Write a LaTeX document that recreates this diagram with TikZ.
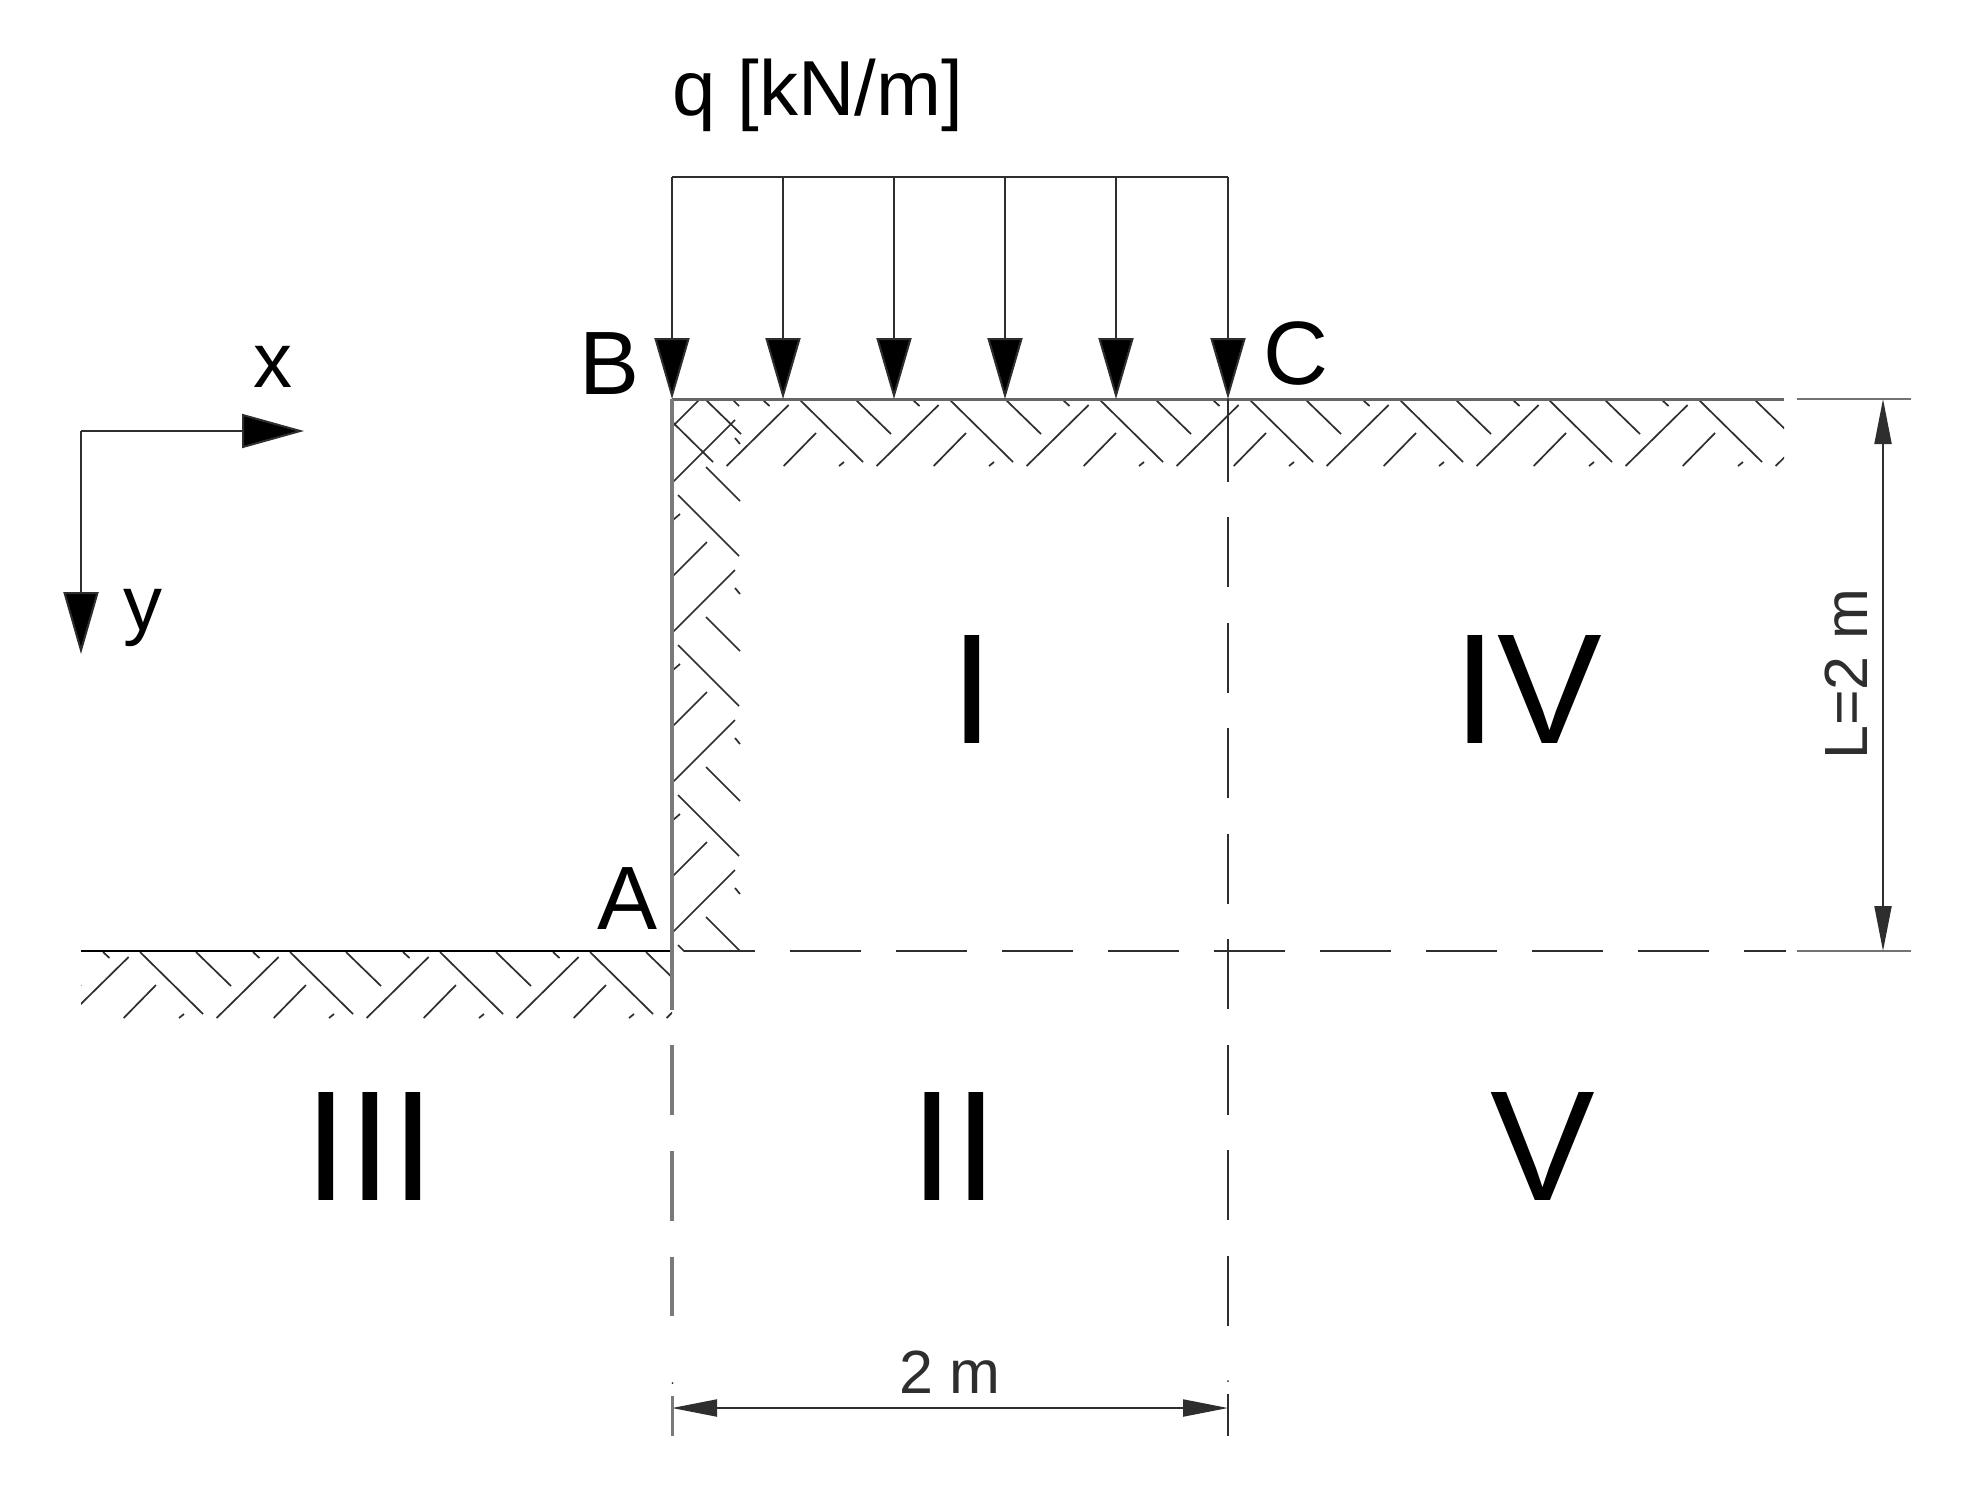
\documentclass[tikz,border=0pt]{standalone}
\usepackage{fontspec}
\setmainfont{Liberation Sans}
\usetikzlibrary{arrows.meta}
\definecolor{ink}{HTML}{2E2E2E}
\definecolor{wallgray}{HTML}{7A7A7A}
\newcommand{\groundcell}{%
  \draw[hatch] (0,1)--(63,63) (56,1)--(91,35) (113,1)--(119.5,7)
    (76.6,67)--(138.6,6) (133.7,67)--(166,34) (189,67)--(194,63);}
\newcommand{\wallcell}{%
  \draw[hatch] (673,632)--(735,570) (706,617)--(740,651) (678,645)--(739,706)
    (673,670)--(680,664) (673,726)--(707,692) (735,738)--(740,744);}
\tikzset{
  hatch/.style={draw=ink,line width=1.7pt},
  loadarrow/.style={draw=ink,line width=2pt,-{Triangle[length=61pt,width=35pt,fill=black]}},
  dimarrow/.style={draw=ink,line width=2pt,{Triangle[length=45pt,width=17pt,fill=ink]}-{Triangle[length=45pt,width=17pt,fill=ink]}},
  solid2/.style={draw=ink,line width=2pt},
  gray3/.style={draw=wallgray,line width=3.2pt},
  extline/.style={draw=black!55,line width=2.5pt},
  dashH/.style={draw=ink,line width=2.2pt,dash pattern=on 71pt off 35pt},
  dashC/.style={draw=ink,line width=2.2pt,dash pattern=on 70pt off 35.5pt},
  dashW/.style={draw=wallgray,line width=3.2pt,dash pattern=on 70pt off 36pt},
  lab/.style={inner sep=0pt,anchor=center,text=black,font=\fontsize{90}{104}\selectfont},
  axlab/.style={inner sep=0pt,anchor=center,text=black,font=\fontsize{78}{94}\selectfont},
  roman/.style={inner sep=0pt,anchor=center,text=black,font=\fontsize{157}{180}\selectfont},
  dimlab/.style={inner sep=0pt,anchor=center,text=ink,font=\fontsize{61}{73}\selectfont},
}
\begin{document}
\begin{tikzpicture}[x=1pt,y=-1pt]
\useasboundingbox (0,0) rectangle (1964,1484);
\fill[white] (0,0) rectangle (1964,1484);
% key points
\coordinate (qL) at (672,177);
\coordinate (qR) at (1228,177);
\coordinate (B) at (672,399);
\coordinate (A) at (672,951);
\coordinate (Cc) at (1228,399);
\coordinate (O) at (81,431);
\coordinate (Ox) at (304,431);
\coordinate (Oy) at (81,654);
% hatching
\begin{scope}
  \clip (672,399) rectangle (1784,467);
  \foreach \xo in {650,800,950,1100,1250,1400,1549,1699}
    {\begin{scope}[shift={(\xo,399)}]\groundcell\end{scope}}
\end{scope}
\begin{scope}
  \clip (81,951) rectangle (672,1018);
  \foreach \xo in {-10,140,290,440,590}
    {\begin{scope}[shift={(\xo,951)}]\groundcell\end{scope}}
\end{scope}
\begin{scope}
  \clip (672,399) rectangle (741,951);
  \foreach \yo in {-300,-150,0,150,300}
    {\begin{scope}[shift={(0,\yo)}]\wallcell\end{scope}}
\end{scope}
% ground lines
\draw[gray3,line width=3pt,draw=black!60] (B) -- (1784,399);
\draw[extline] (1797,399) -- (1911,399);
\draw[solid2,draw=black,line width=2.6pt] (81,951) -- (A);
\draw[gray3] (B) -- (672,1010);
% load
\draw[solid2] (qL) -- (qR);
\foreach \x in {672,783,894,1005,1116,1228}
  \draw[loadarrow] (\x,177) -- (\x,399);
% dashed lines
\draw[solid2] (Cc) -- (1228,482);
\draw[dashC] (1228,517) -- (1228,1341);
\draw[dashW] (672,1045) -- (672,1316);
\draw[dashH] (684,951) -- (1786,951);
\draw[extline] (1797,951) -- (1911,951);
% axes
\draw[draw=ink,line width=2pt,-{Triangle[length=62pt,width=34pt,fill=black]}] (O) -- (Ox);
\draw[draw=ink,line width=2pt,-{Triangle[length=62pt,width=35pt,fill=black]}] (O) -- (Oy);
% dimensions
\draw[dimarrow] (1883,399) -- (1883,951);
\draw[dimarrow] (672,1408) -- (1228,1408);
\draw[gray3,line width=3pt] (672,1396) -- (672,1436);
\draw[solid2] (1228,1394) -- (1228,1436);
\fill[ink] (672.5,1383) circle (1pt) (1228,1381) circle (1pt);
% labels
\node[axlab] (qlabel) at (818,95) {q [kN/m]};
\node[lab] (labB) at (610,364) {B};
\node[lab] (labC) at (1296,354) {C};
\node[lab] (labA) at (628,899) {A};
\node[axlab] (labx) at (273,367) {x};
\node[axlab] (laby) at (143,618) {y};
\node[roman] (r1) at (972,689) {I};
\node[roman] (r4) at (1528,689) {IV};
\node[roman] (r3) at (370,1146) {III};
\node[roman] (r2) at (954,1146) {II};
\node[roman] (r5) at (1543,1146) {V};
\node[dimlab,rotate=90] (labL) at (1846,674) {L=2 m};
\node[dimlab] (lab2m) at (950,1372) {2 m};
\end{tikzpicture}
\end{document}
